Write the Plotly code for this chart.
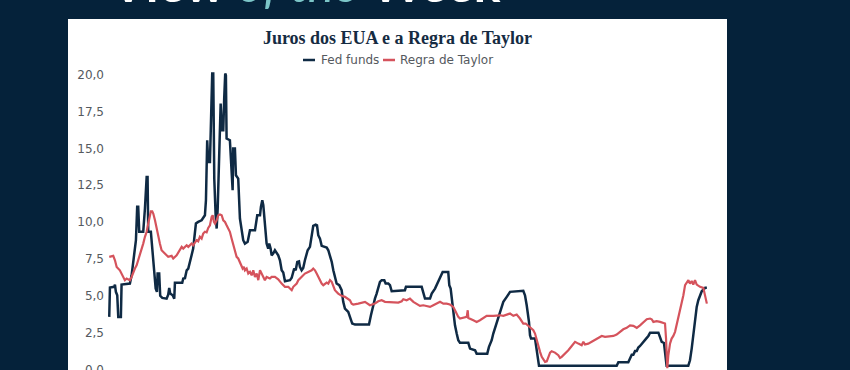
import plotly.graph_objects as go

# ---------------- data ----------------
ff_year = [1971.33, 1971.39, 1971.76, 1971.83, 1971.91, 1972.03, 1972.12, 1972.35, 1972.41, 1973.14,
           1973.29, 1973.43, 1973.58, 1973.67, 1973.78, 1973.87, 1973.96, 1974.31, 1974.46, 1974.61,
           1974.69, 1974.75, 1974.98, 1975.13, 1975.27, 1975.40, 1975.51, 1975.57, 1975.71, 1975.80,
           1975.98, 1976.36, 1976.50, 1976.59, 1976.68, 1976.89, 1977.03, 1977.09, 1977.73, 1977.82,
           1977.97, 1978.12, 1978.26, 1978.41, 1978.55, 1978.69, 1978.84, 1978.93, 1979.13, 1979.43,
           1979.72, 1979.81, 1979.92, 1980.01, 1980.16, 1980.25, 1980.36, 1980.45, 1980.54, 1980.66,
           1980.75, 1980.84, 1980.95, 1981.10, 1981.21, 1981.33, 1981.41, 1981.50, 1981.56, 1981.62,
           1981.91, 1982.06, 1982.15, 1982.20, 1982.35, 1982.44, 1982.64, 1982.79, 1982.88, 1983.08,
           1983.23, 1983.47, 1983.67, 1984.11, 1984.31, 1984.55, 1984.63, 1984.75, 1984.84, 1984.98,
           1985.13, 1985.27, 1985.36, 1985.48, 1985.57, 1985.71, 1985.86, 1986.15, 1986.30, 1986.45,
           1986.59, 1986.74, 1987.18, 1987.33, 1987.47, 1987.55, 1987.68, 1987.82, 1987.97, 1988.05,
           1988.20, 1988.34, 1988.49, 1988.73, 1988.93, 1989.08, 1989.22, 1989.43, 1989.55, 1989.66,
           1989.81, 1989.96, 1990.40, 1990.54, 1990.69, 1990.84, 1990.98, 1991.12, 1991.27, 1991.50,
           1991.71, 1991.85, 1992.00, 1992.29, 1992.44, 1992.64, 1992.88, 1994.11, 1994.28, 1994.48,
           1994.63, 1994.78, 1994.92, 1995.07, 1995.22, 1995.45, 1995.57, 1995.80, 1995.95, 1996.10,
           1997.26, 1997.35, 1998.73, 1998.87, 1999.02, 1999.46, 1999.61, 1999.90, 2000.04, 2000.34,
           2000.48, 2000.57, 2001.06, 2001.15, 2001.27, 2001.36, 2001.50, 2001.65, 2001.80, 2001.94,
           2002.09, 2002.82, 2002.97, 2003.41, 2003.55, 2004.48, 2004.63, 2004.87, 2005.01, 2005.16,
           2005.31, 2005.45, 2005.60, 2005.75, 2005.89, 2006.19, 2006.48, 2007.64, 2007.79, 2007.94,
           2008.03, 2008.14, 2008.23, 2008.32, 2008.67, 2008.82, 2008.96, 2009.02, 2015.83, 2015.98,
           2016.85, 2017.00, 2017.15, 2017.29, 2017.44, 2017.59, 2017.73, 2017.88, 2018.03, 2018.17,
           2018.32, 2018.47, 2018.61, 2018.76, 2019.49, 2019.64, 2019.78, 2019.98, 2020.07, 2020.21,
           2022.11, 2022.26, 2022.41, 2022.55, 2022.70, 2022.85, 2022.99, 2023.14, 2023.29, 2023.59,
           2023.74]
ff_rate = [3.57, 5.56, 5.61, 5.76, 5.27, 5.04, 3.57, 3.57, 5.76, 5.83,
           6.39, 7.3, 8.43, 8.77, 11.03, 11.03, 9.34, 9.34, 10.92, 13.06,
           13.06, 9.34, 9.34, 7.75, 6.39, 5.49, 5.27, 6.51, 6.51, 5.0,
           4.86, 4.81, 5.08, 5.54, 5.15, 5.04, 4.81, 5.88, 5.88, 6.17,
           6.2, 6.73, 6.85, 7.25, 7.75, 8.2, 9.11, 9.9, 10.01, 10.12,
           10.46, 11.48, 15.55, 14.08, 14.08, 16.56, 20.07, 20.07, 12.95, 10.46,
           9.56, 10.92, 13.63, 18.03, 16.22, 16.22, 18.37, 20.07, 19.95, 15.66,
           15.55, 13.4, 12.16, 14.98, 14.98, 13.17, 12.95, 10.24, 9.78, 8.77,
           8.54, 8.66, 9.44, 9.44, 10.46, 10.46, 11.03, 11.48, 11.14, 9.78,
           8.54, 8.2, 8.54, 8.2, 7.75, 7.86, 8.09, 7.75, 7.41, 6.73,
           6.58, 5.99, 6.06, 6.22, 6.62, 6.85, 6.73, 7.3, 7.34, 6.96,
           6.73, 6.89, 7.41, 8.09, 8.32, 9.0, 9.74, 9.83, 9.78, 9.11,
           8.88, 8.39, 8.27, 8.09, 7.75, 7.3, 6.73, 6.17, 5.83, 5.72,
           5.38, 4.59, 4.14, 3.91, 3.57, 3.12, 3.05, 3.05, 3.68, 4.36,
           4.81, 5.15, 5.49, 5.95, 6.06, 6.06, 5.83, 5.83, 5.72, 5.31,
           5.38, 5.61, 5.61, 5.15, 4.81, 4.81, 5.15, 5.49, 5.72, 6.17,
           6.51, 6.62, 6.62, 5.72, 5.49, 4.81, 3.91, 3.0, 2.44, 1.99,
           1.81, 1.81, 1.42, 1.31, 1.08, 1.08, 1.54, 1.99, 2.44, 2.78,
           3.12, 3.57, 3.91, 4.25, 4.59, 4.93, 5.27, 5.34, 5.04, 4.36,
           3.91, 3.23, 2.33, 2.1, 2.1, 1.2, 0.63, 0.25, 0.25, 0.5,
           0.5, 0.75, 1.0, 1.0, 1.25, 1.25, 1.5, 1.6, 1.76, 1.9,
           2.0, 2.15, 2.28, 2.5, 2.5, 2.2, 1.88, 1.8, 0.97, 0.25,
           0.25, 0.63, 1.42, 2.33, 3.12, 4.25, 4.7, 5.04, 5.31, 5.54,
           5.54]

tr_year = [1971.33, 1971.68, 1971.83, 1971.98, 1972.26, 1972.41, 1972.55, 1972.70, 1972.85, 1973.14,
           1973.29, 1973.43, 1973.58, 1973.73, 1973.87, 1974.02, 1974.17, 1974.31, 1974.46, 1974.61,
           1974.75, 1974.90, 1974.98, 1975.10, 1975.19, 1975.34, 1975.48, 1975.62, 1975.77, 1975.92,
           1976.21, 1976.50, 1976.80, 1976.94, 1977.24, 1977.53, 1977.68, 1977.82, 1978.12, 1978.26,
           1978.55, 1978.69, 1978.99, 1979.13, 1979.28, 1979.43, 1979.57, 1979.72, 1979.87, 1980.01,
           1980.16, 1980.31, 1980.40, 1980.51, 1980.60, 1980.75, 1980.89, 1981.04, 1981.19, 1981.33,
           1981.48, 1981.62, 1981.77, 1981.91, 1982.06, 1982.20, 1982.35, 1982.50, 1982.64, 1982.79,
           1982.94, 1983.03, 1983.14, 1983.23, 1983.38, 1983.52, 1983.67, 1983.82, 1983.96, 1984.11,
           1984.26, 1984.40, 1984.55, 1984.70, 1984.98, 1985.13, 1985.42, 1985.57, 1985.86, 1986.15,
           1986.30, 1986.45, 1986.74, 1987.03, 1987.18, 1987.33, 1987.47, 1987.77, 1987.91, 1988.20,
           1988.49, 1988.78, 1989.08, 1989.22, 1989.37, 1989.52, 1989.66, 1989.81, 1989.96, 1990.10,
           1990.40, 1990.54, 1990.69, 1990.84, 1990.98, 1991.12, 1991.41, 1991.71, 1992.00, 1992.29,
           1992.44, 1992.59, 1992.73, 1993.17, 1993.76, 1994.19, 1994.63, 1994.92, 1995.22, 1995.51,
           1996.10, 1996.68, 1996.98, 1997.12, 1997.41, 1997.70, 1998.00, 1998.29, 1998.58, 1998.87,
           1999.17, 1999.46, 1999.75, 2000.04, 2000.34, 2000.63, 2000.92, 2001.21, 2001.50, 2001.65,
           2001.80, 2001.94, 2002.09, 2002.68, 2002.77, 2002.82, 2003.26, 2003.55, 2003.84, 2004.13,
           2004.43, 2005.01, 2005.60, 2005.89, 2006.19, 2006.48, 2006.77, 2007.06, 2007.35, 2007.64,
           2007.85, 2008.08, 2008.38, 2008.52, 2008.67, 2008.82, 2008.96, 2009.11, 2009.26, 2009.55,
           2009.70, 2009.84, 2009.99, 2010.13, 2010.42, 2010.71, 2010.86, 2011.01, 2011.30, 2011.59,
           2011.89, 2012.18, 2012.47, 2012.76, 2012.91, 2013.05, 2013.34, 2013.64, 2013.93, 2014.22,
           2014.52, 2014.81, 2015.40, 2015.54, 2015.83, 2016.12, 2016.41, 2016.71, 2017.00, 2017.29,
           2017.59, 2017.88, 2018.17, 2018.47, 2018.76, 2018.90, 2019.05, 2019.34, 2019.64, 2019.92,
           2020.07, 2020.16, 2020.27, 2020.36, 2020.51, 2020.65, 2020.80, 2020.95, 2021.09, 2021.24,
           2021.39, 2021.54, 2021.68, 2021.83, 2021.98, 2022.12, 2022.26, 2022.41, 2022.55, 2022.70,
           2022.85, 2023.14, 2023.43, 2023.57, 2023.74]
tr_rate = [7.64, 7.71, 7.41, 6.96, 6.73, 6.51, 6.28, 6.06, 6.17, 6.06,
           6.28, 6.62, 6.85, 7.07, 7.41, 7.75, 8.2, 8.54, 9.0, 9.34,
           9.9, 10.46, 10.73, 10.73, 10.58, 10.12, 9.56, 9.0, 8.54, 8.09,
           7.86, 7.64, 7.71, 7.53, 7.75, 8.2, 8.32, 8.2, 8.43, 8.32,
           8.54, 8.43, 8.77, 8.7, 9.0, 8.88, 9.22, 9.34, 9.3, 9.6,
           9.78, 10.35, 10.46, 10.01, 9.9, 10.12, 10.46, 10.51, 10.46, 10.12,
           10.01, 9.78, 9.56, 9.34, 8.88, 8.43, 7.98, 7.64, 7.53, 7.3,
           7.07, 6.85, 6.96, 6.73, 6.85, 6.51, 6.62, 6.39, 6.73, 6.28,
           6.51, 6.06, 6.73, 6.51, 6.06, 6.28, 6.17, 6.28, 6.28, 6.12,
           5.95, 5.83, 5.61, 5.61, 5.49, 5.38, 5.61, 5.83, 6.06, 6.28,
           6.51, 6.62, 6.73, 6.85, 6.73, 6.51, 6.28, 6.06, 5.83, 5.72,
           5.9, 5.83, 6.06, 5.95, 5.72, 5.38, 5.15, 5.0, 4.93, 4.81,
           4.7, 4.47, 4.41, 4.47, 4.59, 4.36, 4.47, 4.63, 4.7, 4.59,
           4.54, 4.54, 4.63, 4.77, 4.7, 4.81, 4.59, 4.47, 4.32, 4.36,
           4.32, 4.25, 4.36, 4.47, 4.59, 4.47, 4.47, 4.41, 4.25, 4.02,
           3.73, 3.57, 3.46, 3.57, 4.02, 3.5, 3.34, 3.23, 3.34, 3.5,
           3.64, 3.64, 3.68, 3.64, 3.73, 3.8, 3.64, 3.73, 3.46, 3.12,
           3.12, 2.96, 2.78, 2.67, 2.44, 1.99, 1.54, 1.2, 0.86, 0.52,
           0.56, 0.86, 1.15, 1.24, 1.15, 0.97, 0.79, 0.86, 1.08, 1.31,
           1.6, 1.88, 1.76, 1.65, 1.88, 1.7, 1.76, 1.88, 1.99, 2.15,
           2.28, 2.22, 2.28, 2.28, 2.37, 2.56, 2.73, 2.83, 3.0, 2.96,
           2.83, 3.0, 3.23, 3.41, 3.46, 3.41, 3.23, 3.28, 3.23, 3.18,
           3.12, 2.1, 0.1, 0.97, 1.76, 2.1, 2.28, 2.56, 3.0, 3.57,
           4.14, 4.41, 5.04, 5.72, 5.95, 6.06, 5.83, 6.0, 5.76, 6.06,
           5.76, 5.61, 5.54, 5.04, 4.47]

y_ticks = [0, 2.5, 5, 7.5, 10, 12.5, 15, 17.5, 20]
series_names = ["Fed funds", "Regra de Taylor"]
title_text = "Juros dos EUA e a Regra de Taylor"

# ---------------- styling ----------------
W, H = 850, 370
ML, MR, MT, MB = 108, 142, 70, 0
NAVY_BG = "#05223a"
FF_COLOR = "#0f2a44"
TR_COLOR = "#d5535c"
TEXT_GREY = "#55595e"
SANS = "DejaVu Sans"


def px_x(px):
    return (px - ML) / (W - ML - MR)


def px_y(py):
    return (H - MB - py) / (H - MT - MB)


fig = go.Figure()
fig.add_trace(go.Scatter(x=ff_year, y=ff_rate, mode="lines", name=series_names[0],
                         line=dict(color=FF_COLOR, width=2.5), showlegend=False))
fig.add_trace(go.Scatter(x=tr_year, y=tr_rate, mode="lines", name=series_names[1],
                         line=dict(color=TR_COLOR, width=2.2), showlegend=False))

shapes = [
    # white card
    dict(type="rect", xref="paper", yref="paper", x0=px_x(68), x1=px_x(727),
         y0=px_y(380), y1=px_y(19), fillcolor="white", line=dict(width=0), layer="below"),
    # legend keys
    dict(type="line", xref="paper", yref="paper", x0=px_x(303), x1=px_x(315),
         y0=px_y(60), y1=px_y(60), line=dict(color=FF_COLOR, width=2.5)),
    dict(type="line", xref="paper", yref="paper", x0=px_x(383), x1=px_x(395),
         y0=px_y(60), y1=px_y(60), line=dict(color=TR_COLOR, width=2.5)),
]

annotations = [
    dict(xref="paper", yref="paper", x=px_x(319), y=px_y(60), xanchor="left", yanchor="middle",
         text=series_names[0], showarrow=False,
         font=dict(family=SANS, size=12, color=TEXT_GREY)),
    dict(xref="paper", yref="paper", x=px_x(398), y=px_y(60), xanchor="left", yanchor="middle",
         text=series_names[1], showarrow=False,
         font=dict(family=SANS, size=12, color=TEXT_GREY)),
    dict(xref="paper", yref="paper", x=px_x(305), y=px_y(15.5), xanchor="center", yanchor="bottom",
         text="<b>View</b> <i><span style='color:#7cc6c8'>of the</span></i> <b>Week</b>",
         showarrow=False, font=dict(family="Lato", size=50, color="white")),
]

fig.update_layout(
    width=W, height=H, autosize=False,
    margin=dict(l=ML, r=MR, t=MT, b=MB, pad=0),
    paper_bgcolor=NAVY_BG, plot_bgcolor="white",
    separators=",.",
    title=dict(text="<b>" + title_text + "</b>", xref="container", yref="container",
               x=397.5 / W, y=1 - 38 / H, xanchor="center", yanchor="middle",
               font=dict(family="Liberation Serif", size=18, color="#152b42")),
    xaxis=dict(range=[1971.22, 2023.84], visible=False, showgrid=False, zeroline=False),
    yaxis=dict(range=[-0.03, 20.31], tickvals=y_ticks, tickformat=".1f",
               showgrid=False, zeroline=False, showline=False, ticks="",
               tickfont=dict(family=SANS, size=12, color=TEXT_GREY),
               automargin=False, ticklabelstandoff=3, ticklabeloverflow="allow"),
    shapes=shapes, annotations=annotations, showlegend=False,
)

fig.write_html(
    "out.html",
    config={"displayModeBar": False},
    post_script="document.body.style.margin='0px';document.body.style.padding='0px';"
                "document.documentElement.style.overflow='hidden';",
)
